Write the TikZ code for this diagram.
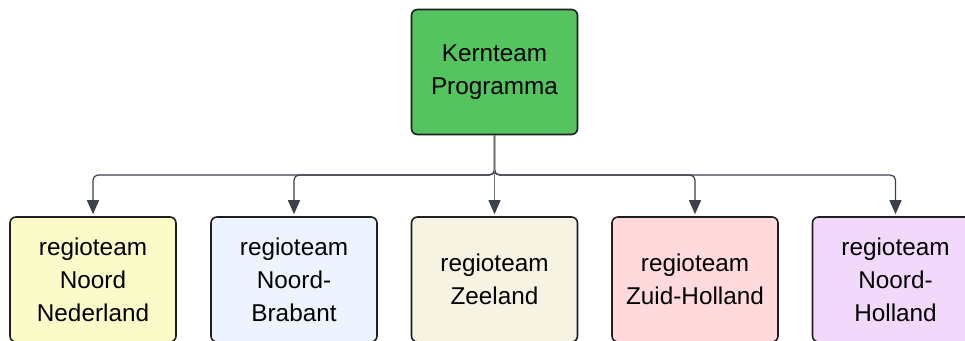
\documentclass[tikz,border=0pt]{standalone}
\usepackage{fontspec}
\setmainfont{Liberation Sans}
\usetikzlibrary{arrows.meta}
\definecolor{kgreen}{HTML}{54C45E}
\definecolor{ryellow}{HTML}{FBFBC9}
\definecolor{rblue}{HTML}{EDF4FF}
\definecolor{rbeige}{HTML}{F6F3E2}
\definecolor{rpink}{HTML}{FFD9DB}
\definecolor{rpurple}{HTML}{F2D9FB}
\definecolor{edgegray}{HTML}{3B4049}
\definecolor{bordergray}{HTML}{1F1F1F}
\tikzset{
  teambox/.style={draw=bordergray, line width=1.6pt, rounded corners=6pt,
    minimum width=166pt, minimum height=125pt, align=center,
    font=\fontsize{24.3pt}{33pt}\selectfont, inner sep=0pt},
  edge/.style={draw=edgegray, line width=1.2pt, rounded corners=5pt,
    -{Triangle[width=12pt,length=14pt]}, shorten >=2pt},
  midedge/.style={draw=edgegray!70, line width=0.8pt,
    -{Triangle[width=12pt,length=14pt,color=edgegray]}, shorten >=2pt}
}
\begin{document}
\begin{tikzpicture}[x=1pt,y=-1pt]
\useasboundingbox (0,0) rectangle (965,340);
\clip (0,0) rectangle (965,340);
\node[teambox, fill=kgreen] (k) at (494.5,72) {Kernteam\\Programma};
\node[teambox, fill=ryellow] (r1) at (93,279.5) {regioteam\\Noord\\Nederland};
\node[teambox, fill=rblue] (r2) at (294,279.5) {regioteam\\Noord-\\Brabant};
\node[teambox, fill=rbeige] (r3) at (494.5,279.5) {regioteam\\Zeeland};
\node[teambox, fill=rpink] (r4) at (695,279.5) {regioteam\\Zuid-Holland};
\node[teambox, fill=rpurple] (r5) at (895.5,279.5) {regioteam\\Noord-\\Holland};
\coordinate (j) at (494.5,175);
\draw[edge] (k.south) -- (j) -| (r1.north);
\draw[edge] (k.south) -- (j) -| (r2.north);
\draw[edge] (k.south) -- (j) -| (r4.north);
\draw[edge] (k.south) -- (j) -| (r5.north);
\draw[midedge] (k.south) -- (r3.north);
\end{tikzpicture}
\end{document}
